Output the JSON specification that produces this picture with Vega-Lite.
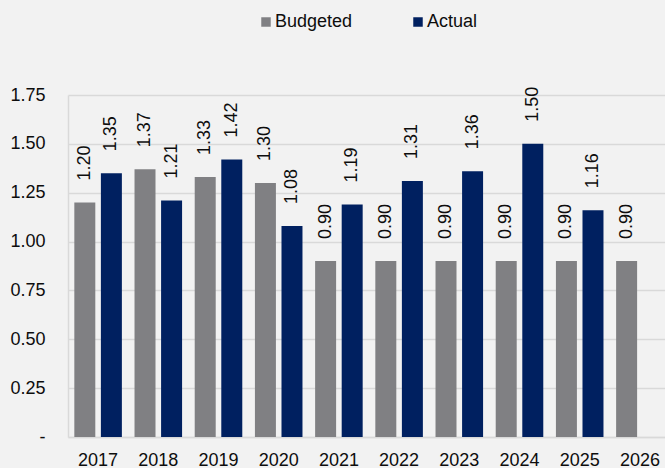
{
  "$schema": "https://vega.github.io/schema/vega-lite/v6.json",
  "width": 602,
  "height": 342,
  "autosize": {"type": "none"},
  "padding": {"left": 68, "top": 95, "right": 0, "bottom": 31},
  "background": "#f2f2f2",
  "config": {
    "font": "Liberation Sans",
    "view": {"stroke": null},
    "axis": {"labelFont": "Liberation Sans", "labelFontSize": 18, "labelColor": "#0d0d0d"}
  },
  "data": {
    "values": [
      {"year": "2017", "series": "Budgeted", "value": 1.20},
      {"year": "2017", "series": "Actual", "value": 1.35},
      {"year": "2018", "series": "Budgeted", "value": 1.37},
      {"year": "2018", "series": "Actual", "value": 1.21},
      {"year": "2019", "series": "Budgeted", "value": 1.33},
      {"year": "2019", "series": "Actual", "value": 1.42},
      {"year": "2020", "series": "Budgeted", "value": 1.30},
      {"year": "2020", "series": "Actual", "value": 1.08},
      {"year": "2021", "series": "Budgeted", "value": 0.90},
      {"year": "2021", "series": "Actual", "value": 1.19},
      {"year": "2022", "series": "Budgeted", "value": 0.90},
      {"year": "2022", "series": "Actual", "value": 1.31},
      {"year": "2023", "series": "Budgeted", "value": 0.90},
      {"year": "2023", "series": "Actual", "value": 1.36},
      {"year": "2024", "series": "Budgeted", "value": 0.90},
      {"year": "2024", "series": "Actual", "value": 1.50},
      {"year": "2025", "series": "Budgeted", "value": 0.90},
      {"year": "2025", "series": "Actual", "value": 1.16},
      {"year": "2026", "series": "Budgeted", "value": 0.90}
    ]
  },
  "encoding": {
    "x": {
      "field": "year", "type": "ordinal",
      "scale": {"paddingInner": 0.21, "paddingOuter": 0.105},
      "axis": {"title": null, "labelAngle": 0, "ticks": false, "domain": true, "domainColor": "#d9d9d9", "domainWidth": 1.5, "labelPadding": 14}
    },
    "xOffset": {
      "field": "series", "type": "nominal",
      "scale": {"domain": ["Budgeted", "Actual"], "paddingInner": 0.21, "paddingOuter": 0}
    },
    "y": {
      "field": "value", "type": "quantitative",
      "scale": {"domain": [0, 1.75], "nice": false},
      "axis": {
        "title": null,
        "values": [0, 0.25, 0.5, 0.75, 1, 1.25, 1.5, 1.75],
        "labelExpr": "datum.value == 0 ? '-\u00a0\u00a0' : format(datum.value, '.2f')",
        "ticks": false, "domain": true, "domainColor": "#d9d9d9", "domainWidth": 1.5,
        "grid": true, "gridColor": "#d9d9d9", "gridWidth": 1.5,
        "labelPadding": 23
      }
    }
  },
  "layer": [
    {
      "mark": {"type": "bar"},
      "encoding": {
        "color": {
          "field": "series", "type": "nominal",
          "scale": {"domain": ["Budgeted", "Actual"], "range": ["#808083", "#002060"]},
          "legend": {
            "title": null,
            "orient": "none",
            "direction": "horizontal",
            "legendX": 189,
            "legendY": -82,
            "symbolType": "square",
            "symbolSize": 90,
            "symbolStrokeWidth": 0,
            "labelFontSize": 18,
            "labelFont": "Liberation Sans",
            "labelColor": "#0d0d0d",
            "labelOffset": 0,
            "columnPadding": 56,
            "padding": 0
          }
        }
      }
    },
    {
      "mark": {"type": "text", "angle": 270, "align": "left", "baseline": "middle", "dx": 22, "fontSize": 18, "color": "#0d0d0d"},
      "encoding": {
        "text": {"field": "value", "type": "quantitative", "format": ".2f"}
      }
    }
  ]
}
